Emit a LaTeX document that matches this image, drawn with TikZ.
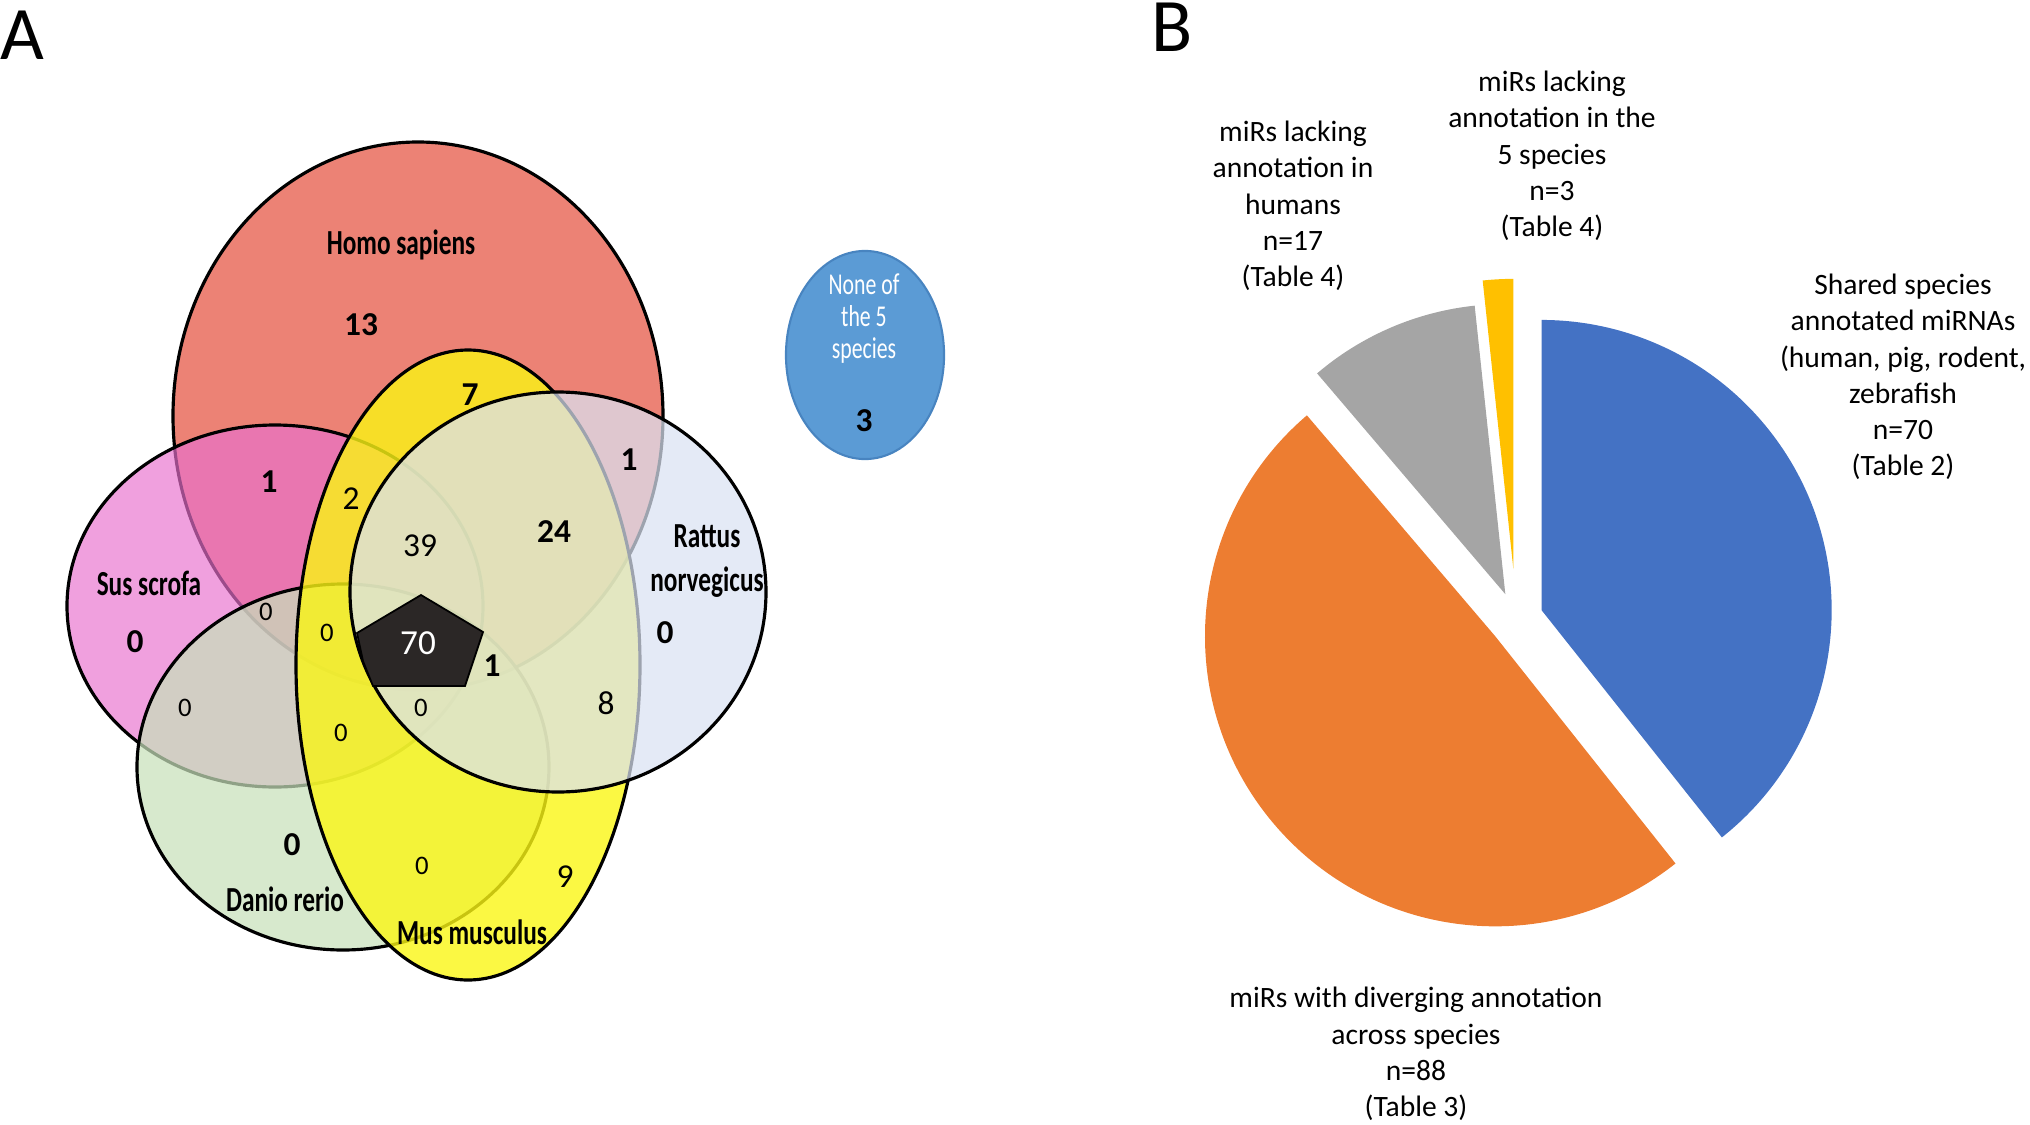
\documentclass[tikz,border=0pt]{standalone}
\usepackage{fontspec}
\setmainfont{Carlito}
\newfontfamily\condfont[FakeStretch=0.72]{Carlito}

\definecolor{homo}{RGB}{236,130,117}
\definecolor{sus}{RGB}{233,113,206}
\definecolor{danio}{RGB}{199,224,186}
\definecolor{mus}{RGB}{250,246,20}
\definecolor{rattus}{RGB}{218,226,242}
\definecolor{outside}{RGB}{91,155,213}
\definecolor{outsideline}{RGB}{72,132,192}
\definecolor{core}{RGB}{43,39,38}
\definecolor{shared}{RGB}{68,114,196}
\definecolor{diverge}{RGB}{237,125,49}
\definecolor{nohuman}{RGB}{165,165,165}
\definecolor{nospecies}{RGB}{255,192,0}

\def\pieR{2.9}
\def\pieOut{0.27}
\def\pieOutFar{0.5}

% one species set: centre, x radius, y radius (pixels), fill, opacity
\newcommand{\vennset}[5]{
	\draw[line width=0.9pt, fill=#4, fill opacity=#5] #1 ellipse [x radius=#2*0.01cm, y radius=#3*0.01cm];
}

\tikzset{
	specieslabel/.style={font=\condfont\bfseries\fontsize{10}{12.5}\selectfont, inner sep=0pt, align=center},
	countbold/.style={font=\bfseries\fontsize{9.5}{11}\selectfont, inner sep=0pt},
	countreg/.style={font=\fontsize{9.5}{11}\selectfont, inner sep=0pt},
	countsmall/.style={font=\fontsize{7.6}{9}\selectfont, inner sep=0pt},
	pielabel/.style={font=\fontsize{8.4}{10.3}\selectfont, align=center, inner sep=0pt},
	panel/.style={font=\fontsize{21.5}{24}\selectfont, inner sep=0pt}
}

\begin{document}
\begin{tikzpicture}[x=0.01cm, y=-0.01cm]
	\useasboundingbox (0,0) rectangle (2030,1124);

	%panel letters
	\node[panel] (panelA) at (22,35) {A};
	\node[panel] (panelB) at (1172,27) {B};

	%venn sets, bottom to top
	\vennset{(418,416)}{245}{274}{homo}{1}
	\vennset{(275,606)}{208}{181}{sus}{0.67}
	\vennset{(343,767)}{206}{183}{danio}{0.72}
	\vennset{(468,665)}{172}{315}{mus}{0.8}
	\vennset{(558,592)}{208}{200}{rattus}{0.72}

	%shared by all five
	\draw[fill=core, line width=0.5pt] (421,595) -- (483,632) -- (465,686) -- (373,686) -- (363,661) -- (357,633) -- cycle;
	\node[countreg, text=white, font=\fontsize{10}{11}\selectfont] (core) at (418,643) {70};

	%none of the species
	\draw[outsideline, line width=0.6pt, fill=outside] (865,355) ellipse [x radius=0.79cm, y radius=1.04cm];
	\node[specieslabel, font=\condfont\fontsize{8.6}{9.1}\selectfont, text=white] (outsideText) at (864,319) {None of\\the 5\\species};
	\node[countbold] (outsideCount) at (864,421) {3};

	%species names
	\node[specieslabel] (homoName) at (401,245) {Homo sapiens};
	\node[specieslabel] (susName) at (149,583) {Sus scrofa};
	\node[specieslabel] (rattusName) at (707,561) {Rattus\\norvegicus};
	\node[specieslabel] (danioName) at (285,899) {Danio rerio};
	\node[specieslabel] (musName) at (472,932) {Mus musculus};

	%counts
	\node[countbold] (homoOnly) at (361,325) {13};
	\node[countbold] (homoMus) at (470,395) {7};
	\node[countbold] (homoSus) at (269,482) {1};
	\node[countbold] (homoMusRattus) at (554,532) {24};
	\node[countbold] (homoRattus) at (629,460) {1};
	\node[countbold] (susOnly) at (135,642) {0};
	\node[countbold] (coreSide) at (492,666) {1};
	\node[countbold] (rattusOnly) at (665,633) {0};
	\node[countbold] (danioOnly) at (292,845) {0};
	\node[countreg] (homoSusMus) at (351,499) {2};
	\node[countreg] (fourSets) at (420,546) {39};
	\node[countreg] (musRattus) at (606,703) {8};
	\node[countreg] (musOnly) at (565,877) {9};
	\foreach \x/\y [count=\i] in {266/612, 327/633, 185/708, 421/708, 341/733, 422/866}
		\node[countsmall] (zero\i) at (\x,\y) {0};

	%pie of the annotation groups
	\begin{scope}[shift={(1516,619)}, x=1cm, y=1cm]
		\foreach \a/\b/\d/\c in {308.43/450/\pieOut/shared, 130.45/308.43/\pieOut/diverge, 96.07/130.45/\pieOut/nohuman, 90/96.07/\pieOutFar/nospecies}
		{
			\pgfmathsetmacro\m{(\a+\b)/2}
			\fill[\c] (\m:\d) -- ++(\a:\pieR) arc[start angle=\a, end angle=\b, radius=\pieR] -- cycle;
		}
	\end{scope}

	%pie labels
	\node[pielabel] (noHumanText) at (1293,206) {miRs lacking\\annotation in\\humans\\n=17\\(Table 4)};
	\node[pielabel] (noSpeciesText) at (1552,156) {miRs lacking\\annotation in the\\5 species\\n=3\\(Table 4)};
	\node[pielabel] (sharedText) at (1903,377) {Shared species\\annotated miRNAs\\(human, pig, rodent,\\zebrafish\\n=70\\(Table 2)};
	\node[pielabel] (divergeText) at (1416,1054) {miRs with diverging annotation\\across species\\n=88\\(Table 3)};

\end{tikzpicture}
\end{document}
